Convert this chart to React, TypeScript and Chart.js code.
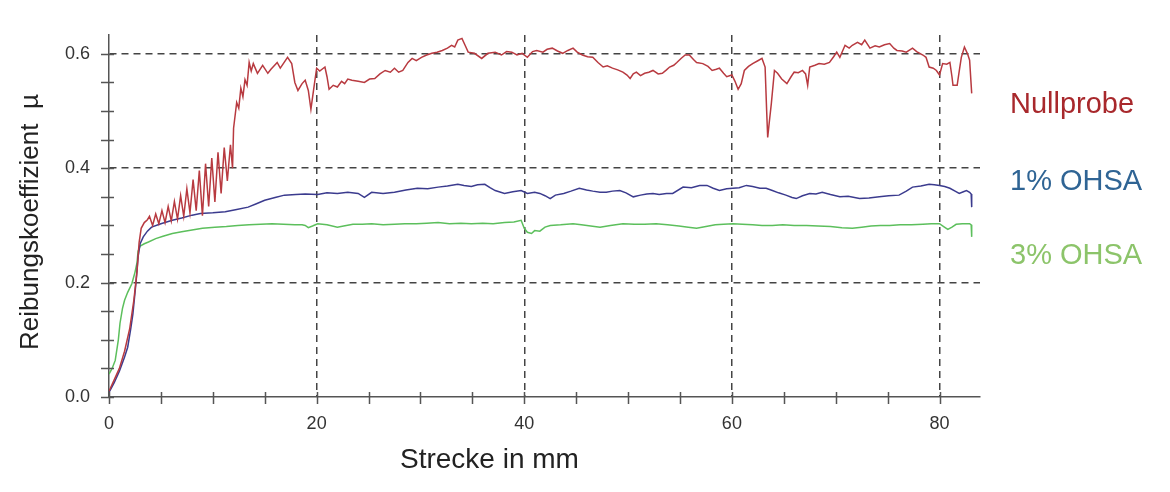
import React, { useEffect, useRef } from "react";
import { Chart, registerables } from "chart.js";

Chart.register(...registerables);

const nullprobeX = [0, 0.5, 1.0, 1.5, 2.0, 2.4, 2.7, 2.9, 3.1, 3.4, 3.7,
  3.9, 4.2, 4.5, 4.8, 5.1, 5.4, 5.7, 6.0, 6.3, 6.6, 6.9, 7.2, 7.5, 7.8, 8.1, 8.4, 8.7, 9.0, 9.3, 9.6, 9.9, 10.2, 10.5, 10.8, 11.1, 11.4, 11.7, 11.9,
  12.0, 12.3, 12.5, 12.7, 12.9, 13.1, 13.3, 13.5, 13.7, 13.9, 14.3, 14.8, 15.3, 15.6, 16.2, 16.5, 17.2, 17.6, 17.9, 18.2, 18.6, 18.9, 19.2, 19.45, 19.7,
  20.0, 20.3, 20.8, 21.0, 21.2, 21.6, 22.0, 22.4, 22.7, 23.0, 23.4, 24.0, 24.6, 25.1, 25.6, 26.1, 26.6, 27.1, 27.5, 27.9, 28.3, 28.8, 29.2, 29.6,
  30.1, 30.6, 31.1, 31.6, 32.1, 32.6, 33.0, 33.3, 33.6, 34.0, 34.3, 34.6, 35.2, 35.9, 36.5, 37.2, 37.8, 38.3, 38.8, 39.3, 39.8,
  40.3, 40.8, 41.2, 41.8, 42.2, 42.7, 43.2, 43.7, 44.2, 44.7, 45.1, 45.6, 46.1, 46.6, 47.1, 47.6, 48.0, 48.5, 49.0, 49.5, 49.9,
  50.2, 50.5, 50.8, 51.2, 51.6, 52.0, 52.4, 52.9, 53.3, 53.7, 54.0, 54.4, 54.7, 55.1, 55.5, 55.9, 56.3, 56.6, 57.2, 57.7, 58.1, 58.5, 58.8, 59.2, 59.5,
  60.0, 60.3, 60.6, 60.9, 61.2, 61.6, 62.0, 62.5, 62.9, 63.2, 63.35, 63.45, 63.6, 63.8, 64.1, 64.4, 64.8, 65.3, 65.7, 66.0, 66.4, 66.8, 67.1, 67.3, 67.5,
  68.0, 68.4, 68.9, 69.4, 69.8, 70.1, 70.4, 70.9, 71.3, 71.6, 72.1, 72.5, 72.8, 73.3, 73.8, 74.2, 74.7, 75.2, 75.6, 75.9, 76.4, 76.8, 77.4, 77.8,
  78.1, 78.4, 78.7, 79.0, 79.4, 79.7, 80.0, 80.3, 80.7, 81.0, 81.2, 81.3, 81.7, 81.9, 82.1, 82.4, 82.7, 82.9, 83.1];
const nullprobeY = [0.01, 0.03, 0.05, 0.08, 0.12, 0.17, 0.22, 0.27, 0.295, 0.305, 0.31,
  0.316, 0.300, 0.320, 0.303, 0.326, 0.305, 0.333, 0.308, 0.342, 0.311, 0.352, 0.316, 0.364, 0.322, 0.380, 0.326, 0.396, 0.317, 0.408, 0.333, 0.418, 0.341, 0.428, 0.356, 0.436, 0.378, 0.441, 0.40,
  0.47, 0.515, 0.505, 0.54, 0.525, 0.555, 0.545, 0.585, 0.57, 0.583, 0.566, 0.58, 0.566, 0.573, 0.585, 0.575, 0.594, 0.583, 0.55, 0.536, 0.548, 0.554, 0.536, 0.503, 0.536,
  0.575, 0.57, 0.577, 0.56, 0.538, 0.545, 0.542, 0.552, 0.548, 0.556, 0.554, 0.552, 0.55, 0.556, 0.557, 0.565, 0.571, 0.568, 0.575, 0.568, 0.571, 0.585, 0.592, 0.588,
  0.594, 0.598, 0.601, 0.603, 0.606, 0.61, 0.615, 0.612, 0.624, 0.627, 0.615, 0.603, 0.601, 0.592, 0.601, 0.603, 0.598, 0.604, 0.603, 0.598, 0.601,
  0.594, 0.604, 0.606, 0.603, 0.608, 0.61, 0.605, 0.601, 0.606, 0.61, 0.603, 0.598, 0.595, 0.594, 0.585, 0.577, 0.579, 0.575, 0.572, 0.568, 0.563,
  0.557, 0.565, 0.568, 0.562, 0.566, 0.568, 0.571, 0.565, 0.566, 0.572, 0.577, 0.58, 0.585, 0.592, 0.598, 0.598, 0.59, 0.585, 0.583, 0.578, 0.571, 0.573, 0.575, 0.566, 0.56,
  0.563, 0.552, 0.538, 0.548, 0.571, 0.578, 0.583, 0.588, 0.592, 0.577, 0.50, 0.454, 0.48, 0.513, 0.571, 0.566, 0.556, 0.548, 0.56, 0.568, 0.567, 0.571, 0.565, 0.545, 0.577,
  0.58, 0.583, 0.582, 0.585, 0.595, 0.603, 0.594, 0.615, 0.61, 0.615, 0.62, 0.616, 0.624, 0.61, 0.614, 0.612, 0.616, 0.618, 0.61, 0.606, 0.605, 0.603, 0.61, 0.604,
  0.601, 0.598, 0.594, 0.577, 0.575, 0.571, 0.563, 0.583, 0.582, 0.585, 0.56, 0.545, 0.545, 0.57, 0.594, 0.612, 0.6, 0.589, 0.531];

const ohsa1X = [0, 0.5, 1.0, 1.5, 1.8, 2.1, 2.3, 2.6, 2.8, 3.0, 3.3, 3.7, 4.1, 5.0, 6.1, 7.0, 8.0, 8.8, 10.0, 11.2, 12.3, 13.4, 14.2, 15.0, 16.0, 16.9, 18.0, 18.9,
  20.1, 21.0, 22.0, 23.0, 24.0, 24.6, 25.3, 26.4, 27.5, 28.6, 29.7, 30.7, 31.7, 32.6, 33.6, 34.2, 34.9, 35.5, 36.2, 36.7, 37.2, 38.1, 38.9, 39.7,
  40.3, 41.0, 41.5, 42.0, 42.5, 43.0, 43.8, 44.5, 45.3, 46.0, 46.6, 47.3, 47.9, 48.5, 49.2, 49.8, 50.5, 51.2, 51.8, 52.4, 53.0, 53.7, 54.3, 55.3, 56.1, 56.9, 57.6, 58.2, 58.8, 59.5,
  60.1, 60.7, 61.4, 62.0, 62.7, 63.3, 63.9, 64.5, 65.2, 65.8, 66.2, 66.8, 67.5, 68.1, 68.7, 69.5, 70.4, 71.2, 72.3, 73.2, 74.2, 75.1, 76.1, 76.8, 77.4, 78.2, 79.0, 79.5,
  80.0, 80.5, 81.0, 81.5, 81.9, 82.3, 82.6, 82.9, 83.05, 83.1];
const ohsa1Y = [0.008, 0.025, 0.045, 0.07, 0.087, 0.12, 0.145, 0.2, 0.245, 0.268, 0.28, 0.29, 0.297, 0.303, 0.309, 0.313, 0.318, 0.321, 0.322, 0.324, 0.328, 0.332, 0.338, 0.344, 0.349, 0.353, 0.354, 0.355,
  0.354, 0.357, 0.356, 0.358, 0.356, 0.349, 0.358, 0.356, 0.358, 0.362, 0.365, 0.364, 0.367, 0.369, 0.372, 0.37, 0.368, 0.371, 0.372, 0.366, 0.361, 0.356, 0.359, 0.361,
  0.356, 0.358, 0.356, 0.352, 0.347, 0.353, 0.356, 0.36, 0.365, 0.362, 0.36, 0.358, 0.358, 0.36, 0.361, 0.357, 0.35, 0.353, 0.355, 0.356, 0.354, 0.356, 0.356, 0.367, 0.366, 0.37, 0.37, 0.365, 0.361, 0.364,
  0.365, 0.366, 0.37, 0.368, 0.365, 0.365, 0.361, 0.357, 0.353, 0.349, 0.347, 0.352, 0.356, 0.355, 0.358, 0.354, 0.35, 0.351, 0.347, 0.348, 0.35, 0.352, 0.353, 0.36, 0.367, 0.369, 0.372, 0.371,
  0.37, 0.368, 0.365, 0.36, 0.356, 0.359, 0.361, 0.358, 0.355, 0.332];

const ohsa3X = [0, 0.3, 0.6, 0.9, 1.06, 1.3, 1.5, 1.8, 2.2, 2.5, 2.7, 2.8, 3.0, 3.4, 3.8, 4.5, 5.2, 6.1, 7.0, 8.0, 9.0, 10.2, 11.3, 12.4, 13.5, 14.6, 15.7, 16.8, 17.9, 18.6, 18.9, 19.2, 19.6,
  20.1, 21.0, 22.0, 22.6, 23.5, 24.4, 25.3, 26.4, 27.5, 28.5, 29.6, 30.6, 31.7, 32.8, 33.9, 34.9, 36.0, 37.0, 38.1, 39.0, 39.7,
  40.0, 40.3, 40.7, 41.0, 41.5, 42.0, 42.5, 43.5, 44.7, 45.5, 46.4, 47.3, 48.3, 49.5, 50.6, 51.6, 52.7, 53.8, 54.9, 55.8, 56.6, 57.5, 58.4, 59.2,
  60.1, 61.0, 62.0, 62.9, 63.9, 64.9, 66.0, 67.2, 68.3, 69.5, 70.6, 71.6, 72.5, 73.4, 74.3, 75.2, 76.2, 77.3, 78.4, 79.2,
  80.0, 80.4, 80.8, 81.2, 81.6, 82.2, 82.9, 83.05, 83.1];
const ohsa3Y = [0.04, 0.05, 0.064, 0.1, 0.129, 0.155, 0.169, 0.183, 0.198, 0.218, 0.235, 0.255, 0.264, 0.268, 0.271, 0.277, 0.281, 0.286, 0.289, 0.292, 0.295, 0.297, 0.298, 0.300, 0.301, 0.302, 0.303, 0.302, 0.301, 0.301, 0.300, 0.296, 0.299,
  0.303, 0.301, 0.297, 0.299, 0.302, 0.302, 0.303, 0.301, 0.302, 0.303, 0.303, 0.304, 0.305, 0.303, 0.304, 0.303, 0.304, 0.303, 0.305, 0.306, 0.309,
  0.295, 0.288, 0.286, 0.291, 0.29, 0.297, 0.30, 0.301, 0.303, 0.301, 0.299, 0.297, 0.3, 0.303, 0.302, 0.302, 0.303, 0.301, 0.299, 0.297, 0.295, 0.298, 0.301, 0.302,
  0.303, 0.302, 0.301, 0.3, 0.30, 0.301, 0.30, 0.30, 0.299, 0.298, 0.296, 0.295, 0.297, 0.299, 0.30, 0.30, 0.301, 0.301, 0.302, 0.303,
  0.303, 0.298, 0.293, 0.297, 0.302, 0.303, 0.303, 0.301, 0.28];

const seriesNames = ["Nullprobe", "1% OHSA", "3% OHSA"];
const lineColors = ["#b83a40", "#3b3b8e", "#5cbf5c"];
const labelColors = ["#a8282c", "#2f6494", "#8cc46a"];
const xTitle = "Strecke in mm";
const yTitle = "Reibungskoeffizient  µ";

const FONT = "'Liberation Sans', Arial, sans-serif";

function toPoints(xs: number[], ys: number[]) {
  return xs.map((x, i) => ({ x, y: ys[i] }));
}

const crossTicks = {
  id: "crossTicks",
  afterDraw(chart: any) {
    const { ctx, scales } = chart;
    const x = scales.x;
    const y = scales.y;
    ctx.save();
    ctx.strokeStyle = "#555";
    ctx.lineWidth = 1.5;
    ctx.beginPath();
    x.ticks.forEach((t: any) => {
      const px = Math.round(x.getPixelForValue(t.value)) + 0.5;
      ctx.moveTo(px, y.bottom - 5);
      ctx.lineTo(px, y.bottom + 7);
    });
    y.ticks.forEach((t: any) => {
      const py = Math.round(y.getPixelForValue(t.value)) + 0.5;
      ctx.moveTo(x.left - 8, py);
      ctx.lineTo(x.left + 5, py);
    });
    ctx.stroke();
    ctx.restore();
  },
};

const textPlugin = {
  id: "textPlugin",
  afterDraw(chart: any) {
    const { ctx } = chart;
    ctx.save();
    ctx.fillStyle = "#222";
    ctx.font = `28px ${FONT}`;
    ctx.textAlign = "left";
    ctx.textBaseline = "alphabetic";
    ctx.fillText(xTitle, 400, 468);
    ctx.save();
    ctx.translate(38, 222);
    ctx.rotate(-Math.PI / 2);
    ctx.textAlign = "center";
    ctx.font = `26px ${FONT}`;
    ctx.fillText(yTitle, 0, 0);
    ctx.restore();
    const baselines = [113, 190, 264];
    ctx.font = `29px ${FONT}`;
    seriesNames.forEach((name, i) => {
      ctx.fillStyle = labelColors[i];
      ctx.fillText(name, 1010, baselines[i]);
    });
    ctx.restore();
  },
};

export default function App() {
  const ref = useRef<HTMLCanvasElement | null>(null);
  useEffect(() => {
    if (!ref.current) return;
    const datasets = [
      toPoints(nullprobeX, nullprobeY),
      toPoints(ohsa1X, ohsa1Y),
      toPoints(ohsa3X, ohsa3Y),
    ].map((data, i) => ({
      label: seriesNames[i],
      data,
      borderColor: lineColors[i],
      borderWidth: 1.5,
      pointRadius: 0,
      tension: 0,
      fill: false,
    }));
    const chart = new Chart(ref.current, {
      type: "line",
      data: { datasets },
      options: {
        animation: false,
        responsive: false,
        parsing: true,
        layout: { padding: { left: 0, top: 35, right: 190, bottom: 0 } },
        plugins: { legend: { display: false }, tooltip: { enabled: false } },
        scales: {
          x: {
            type: "linear",
            min: 0,
            max: 83.9,
            afterFit: (s: any) => { s.height = 95; },
            ticks: {
              stepSize: 5,
              autoSkip: false,
              includeBounds: false,
              maxRotation: 0,
              padding: 16,
              color: "#333",
              font: { size: 18, family: FONT },
              callback: (v: any) => (Math.round(v) % 20 === 0 ? String(Math.round(v)) : ""),
            },
            grid: {
              drawTicks: false,
              lineWidth: 1.5,
              color: (c: any) => {
                const v = c.tick ? Math.round(c.tick.value) : 0;
                return v % 20 === 0 && v > 0 ? "#444" : "rgba(0,0,0,0)";
              },
            },
            border: { display: true, color: "#555", width: 1.5, dash: [7, 5] },
          },
          y: {
            type: "linear",
            min: 0,
            max: 0.633,
            afterFit: (s: any) => { s.width = 109; },
            ticks: {
              stepSize: 0.05,
              autoSkip: false,
              includeBounds: false,
              padding: 19,
              color: "#333",
              font: { size: 18, family: FONT },
              callback: (v: any) => {
                const k = Math.round(v * 100);
                return k % 20 === 0 ? (k / 100).toFixed(1) : "";
              },
            },
            grid: {
              drawTicks: false,
              lineWidth: 1.5,
              color: (c: any) => {
                const k = c.tick ? Math.round(c.tick.value * 100) : 0;
                return k % 20 === 0 && k > 0 ? "#444" : "rgba(0,0,0,0)";
              },
            },
            border: { display: true, color: "#555", width: 1.5, dash: [7, 5] },
          },
        },
      },
      plugins: [crossTicks, textPlugin],
    });
    return () => chart.destroy();
  }, []);
  return (
    <div style={{ position: "absolute", left: 0, top: 0, width: 1170, height: 492, background: "#fff" }}>
      <canvas ref={ref} width={1170} height={492} />
    </div>
  );
}
